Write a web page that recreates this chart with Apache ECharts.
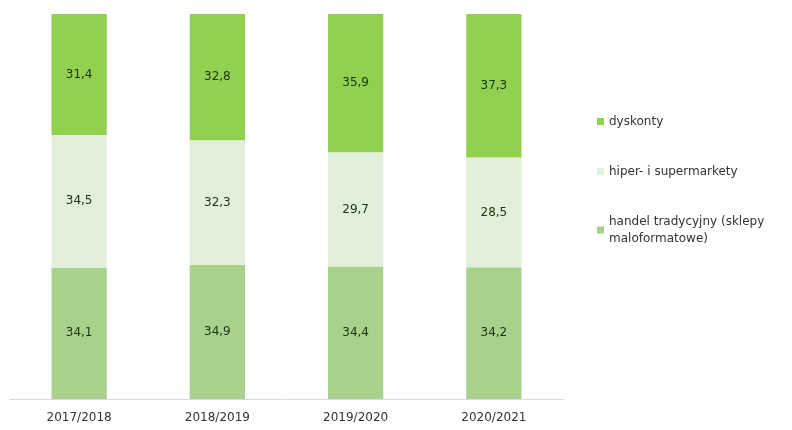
<!DOCTYPE html>
<html><head><meta charset="utf-8">
<script src="https://cdn.jsdelivr.net/npm/echarts@6/dist/echarts.min.js"></script>
<style>html,body{margin:0;padding:0;background:#fff}#c{width:792px;height:430px}</style>
</head><body><div id="c"></div>
<script>
const categories = ['2017/2018', '2018/2019', '2019/2020', '2020/2021'];
const tradycyjny = [34.1, 34.9, 34.4, 34.2];
const hiper = [34.5, 32.3, 29.7, 28.5];
const dyskonty = [31.4, 32.8, 35.9, 37.3];
const seriesNames = ['handel tradycyjny (sklepy\nmaloformatowe)', 'hiper- i supermarkety', 'dyskonty'];

const font = 'DejaVu Sans, Verdana, sans-serif';
const lbl = {show: true, position: 'inside', color: '#1a3310', fontFamily: font, fontSize: 12,
  formatter: p => String(p.value).replace('.', ',')};
const chart = echarts.init(document.getElementById('c'));
chart.setOption({
  animation: false,
  grid: {left: 10, right: 229, top: 14, bottom: 31, containLabel: false},
  legend: {
    orient: 'vertical', left: 592, top: 108, itemGap: 33,
    icon: 'rect', itemWidth: 7, itemHeight: 7,
    data: [seriesNames[2], seriesNames[1], seriesNames[0]],
    textStyle: {fontFamily: font, fontSize: 12, color: '#333333', lineHeight: 17}
  },
  xAxis: {type: 'category', data: categories,
    axisLine: {lineStyle: {color: '#d9d9d9'}}, axisTick: {show: false},
    axisLabel: {color: '#333333', fontFamily: font, fontSize: 12, margin: 13}},
  yAxis: {type: 'value', min: 0, max: 100, show: false, splitLine: {show: false}},
  series: [
    {name: seriesNames[0], type: 'bar', stack: 's', data: tradycyjny, barWidth: '40%', itemStyle: {color: '#a9d18e'}, label: lbl},
    {name: seriesNames[1], type: 'bar', stack: 's', data: hiper, itemStyle: {color: '#e2efda'}, label: lbl},
    {name: seriesNames[2], type: 'bar', stack: 's', data: dyskonty, itemStyle: {color: '#92d050'}, label: lbl}
  ]
});
</script></body></html>
